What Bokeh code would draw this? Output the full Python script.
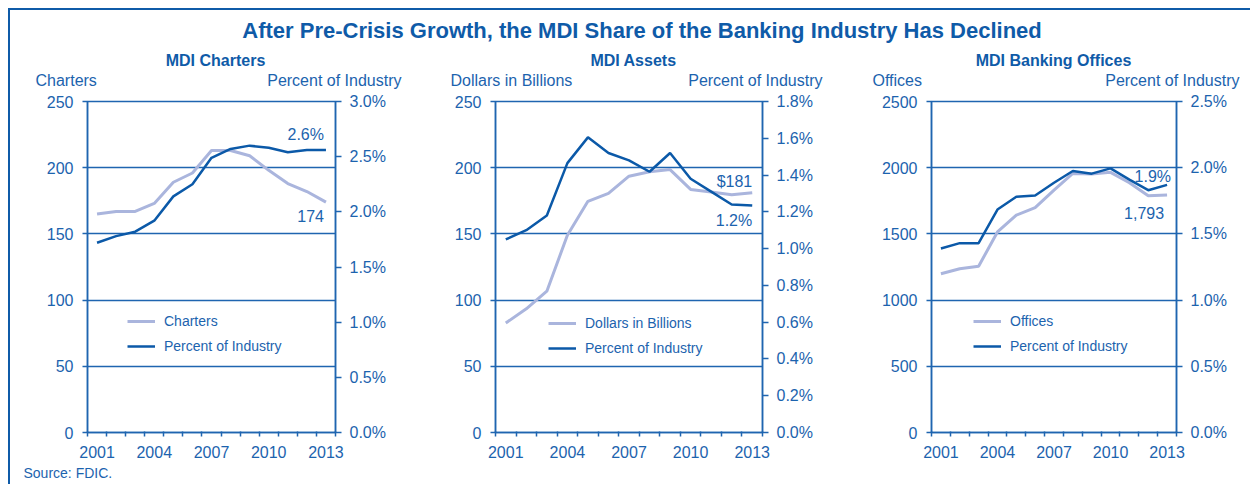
from bokeh.plotting import figure
from bokeh.models import (Range1d, LinearAxis, FixedTicker, PrintfTickFormatter,
                          Label, Legend, LegendItem)
from bokeh.layouts import column, row
from bokeh.embed import file_html
from bokeh.resources import INLINE

# ---------------- data ----------------
years = list(range(2001, 2014))
year_labels = [2001, 2004, 2007, 2010, 2013]

charters = [165, 167, 167, 173, 189, 196, 213, 213, 209, 198, 188, 182, 174]
charters_pct = [1.72, 1.78, 1.82, 1.92, 2.14, 2.25, 2.49, 2.57, 2.60, 2.58, 2.54, 2.56, 2.56]

assets = [82.7, 93.4, 106.7, 149.0, 174.6, 180.6, 193.6, 196.9, 198.6, 183.6, 181.6, 179.6, 181.0]
assets_pct = [1.05, 1.10, 1.18, 1.465, 1.605, 1.52, 1.48, 1.418, 1.52, 1.38, 1.31, 1.24, 1.234]

offices = [1199, 1237, 1255, 1515, 1641, 1699, 1831, 1957, 1952, 1965, 1886, 1788, 1793]
offices_pct = [1.39, 1.43, 1.43, 1.684, 1.78, 1.79, 1.886, 1.975, 1.955, 1.995, 1.91, 1.83, 1.87]

titles = ["MDI Charters", "MDI Assets", "MDI Banking Offices"]
left_titles = ["Charters", "Dollars in Billions", "Offices"]
right_title = "Percent of Industry"
main_title = "After Pre-Crisis Growth, the MDI Share of the Banking Industry Has Declined"
source_text = "Source: FDIC."

# ---------------- style ----------------
FONT = "Liberation Sans"
TEXT = "#1c63ae"
AXC = "#1f65b0"
DARK = "#0b59a8"
LIGHT = "#aab5dd"
BFIX = 0.36        # label baseline correction (fraction of font size)

OX = 10            # page x of layout content (after 8px margin + 2px border)
TOP_Y0, TOP_Y1 = 10, 92
ROW_Y0, ROW_H = 92, 372
BOT_H = 20
T, H = 101, 331    # frame top / height (page px)
TOTAL_W = 1230
TOP_W = 1240


def panel(fig_x, fig_w, L, W, ymax, ystep, pmax, pstep, vals, pcts,
          legend_name, val_text, pct_text, val_off, pct_off, legend_loc):
    p = figure(width=fig_w, height=ROW_H, title=None,
               x_range=Range1d(2000.5, 2013.5), y_range=Range1d(0, ymax),
               output_backend="svg", toolbar_location=None,
               min_border_left=L - fig_x, min_border_right=fig_x + fig_w - (L + W),
               min_border_top=T - ROW_Y0,
               min_border_bottom=ROW_H - (T - ROW_Y0) - H)
    p.extra_y_ranges = {"pct": Range1d(0, pmax)}
    p.background_fill_color = "white"
    p.border_fill_color = "white"
    p.outline_line_color = AXC
    p.outline_line_width = 1.5
    p.xgrid.visible = False
    p.ygrid.grid_line_color = AXC
    p.ygrid.grid_line_width = 1.5

    xa = p.xaxis[0]
    xa.ticker = FixedTicker(ticks=year_labels,
                            minor_ticks=[2000.5 + i for i in range(14)])
    xa.major_tick_line_color = None
    xa.major_tick_out = 0
    xa.major_tick_in = 0
    xa.minor_tick_line_color = AXC
    xa.minor_tick_line_width = 1.5
    xa.minor_tick_out = 4
    xa.minor_tick_in = 1
    xa.axis_line_color = AXC
    xa.axis_line_width = 1.5
    xa.major_label_standoff = 9
    xa.major_label_text_font = FONT
    xa.major_label_text_font_size = "16px"
    xa.major_label_text_color = TEXT

    ya = p.yaxis[0]
    ya.ticker = FixedTicker(ticks=list(range(0, ymax + 1, ystep)))
    ya.major_tick_line_color = AXC
    ya.major_tick_line_width = 1.5
    ya.major_tick_out = 5
    ya.major_tick_in = 0
    ya.minor_tick_line_color = None
    ya.axis_line_color = AXC
    ya.axis_line_width = 1.5
    ya.major_label_standoff = 9
    ya.major_label_text_font = FONT
    ya.major_label_text_font_size = "16px"
    ya.major_label_text_color = TEXT

    nticks = int(round(pmax / pstep))
    ra = LinearAxis(y_range_name="pct",
                    ticker=FixedTicker(ticks=[round(i * pstep, 4) for i in range(nticks + 1)]),
                    formatter=PrintfTickFormatter(format="%.1f%%"))
    ra.major_tick_line_color = AXC
    ra.major_tick_line_width = 1.5
    ra.major_tick_out = 6
    ra.major_tick_in = 0
    ra.minor_tick_line_color = None
    ra.axis_line_color = AXC
    ra.axis_line_width = 1.5
    ra.major_label_standoff = 8
    ra.major_label_text_font = FONT
    ra.major_label_text_font_size = "16px"
    ra.major_label_text_color = TEXT
    p.add_layout(ra, "right")

    r1 = p.line(years, vals, line_color=LIGHT, line_width=3)
    r2 = p.line(years, pcts, y_range_name="pct", line_color=DARK, line_width=2.5)

    legend = Legend(items=[LegendItem(label=legend_name, renderers=[r1]),
                           LegendItem(label=right_title, renderers=[r2])],
                    location=legend_loc, padding=0, margin=0, spacing=3,
                    glyph_width=28, glyph_height=22, label_height=22,
                    label_standoff=9, label_text_font=FONT,
                    label_text_font_size="14px", label_text_color=TEXT,
                    background_fill_alpha=0, border_line_alpha=0)
    p.add_layout(legend)

    fix = BFIX * 16
    p.add_layout(Label(x=years[-1], y=vals[-1], text=val_text, text_align="right",
                       text_baseline="alphabetic", x_offset=val_off[0],
                       y_offset=val_off[1] + fix,
                       text_font=FONT, text_font_size="16px", text_color=TEXT))
    p.add_layout(Label(x=years[-1], y=pcts[-1], y_range_name="pct", text=pct_text,
                       text_align="right", text_baseline="alphabetic",
                       x_offset=pct_off[0], y_offset=pct_off[1] + fix,
                       text_font=FONT, text_font_size="16px", text_color=TEXT))
    return p


f1 = panel(10, 410, 87, 248, 250, 50, 3.0, 0.5, charters, charters_pct,
           left_titles[0], f"{charters[-1]}", f"{round(charters_pct[-1], 1)}%",
           (-2, -20), (-2, 10), (40, 75))
f2 = panel(420, 420, 495, 267, 250, 50, 1.8, 0.2, assets, assets_pct,
           left_titles[1], f"${assets[-1]:.0f}", f"{round(assets_pct[-1], 1)}%",
           (0, 6), (0, -21), (53, 73))
f3 = panel(840, 400, 931, 245, 2500, 500, 2.5, 0.5, offices, offices_pct,
           left_titles[2], f"{offices[-1]:,}", f"{round(offices_pct[-1], 1)}%",
           (-3, -24), (4, 3), (42, 75))

# ---------------- header strip (title, subtitles, axis headers) ----------------
top_h = TOP_Y1 - TOP_Y0
top = figure(width=TOP_W, height=top_h, title=None,
             x_range=Range1d(0, TOP_W), y_range=Range1d(0, top_h),
             x_axis_location=None, y_axis_location=None, min_border=0,
             output_backend="svg", toolbar_location=None)
top.outline_line_color = None
top.grid.visible = False


def head(px, py, text, size, align, bold=False, color=TEXT):
    top.add_layout(Label(x=px - OX, y=TOP_Y1 - py + BFIX * size, text=text,
                         text_align=align, text_baseline="alphabetic", text_font=FONT,
                         text_font_size=f"{size}px", text_color=color,
                         text_font_style="bold" if bold else "normal"))


head(641.5, 38, main_title, 22, "center", bold=True, color="#0f5ba8")
for t, cx in zip(titles, [215, 633, 1053]):
    head(cx, 66, t, 16, "center", bold=True, color="#0f5ba8")
for t, lx in zip(left_titles, [35, 450, 872]):
    head(lx, 86, t, 16, "left")
for rx in [401, 822, 1239]:
    head(rx, 86, right_title, 16, "right")

# ---------------- footer strip ----------------
bot = figure(width=TOTAL_W, height=BOT_H, title=None,
             x_range=Range1d(0, TOTAL_W), y_range=Range1d(0, BOT_H),
             x_axis_location=None, y_axis_location=None, min_border=0,
             output_backend="svg", toolbar_location=None)
bot.outline_line_color = None
bot.grid.visible = False
bot_y0 = ROW_Y0 + ROW_H
bot.add_layout(Label(x=23 - OX, y=bot_y0 + BOT_H - 478 + BFIX * 14, text=source_text,
                     text_align="left", text_baseline="alphabetic", text_font=FONT,
                     text_font_size="14px", text_color=TEXT))

layout = column(top, row(f1, f2, f3), bot,
                styles={"margin-left": "8px", "margin-top": "8px",
                        "border-top": "2px solid #0f5ba8",
                        "border-left": "2px solid #0f5ba8"})

open("out.html", "w").write(file_html(layout, INLINE))
